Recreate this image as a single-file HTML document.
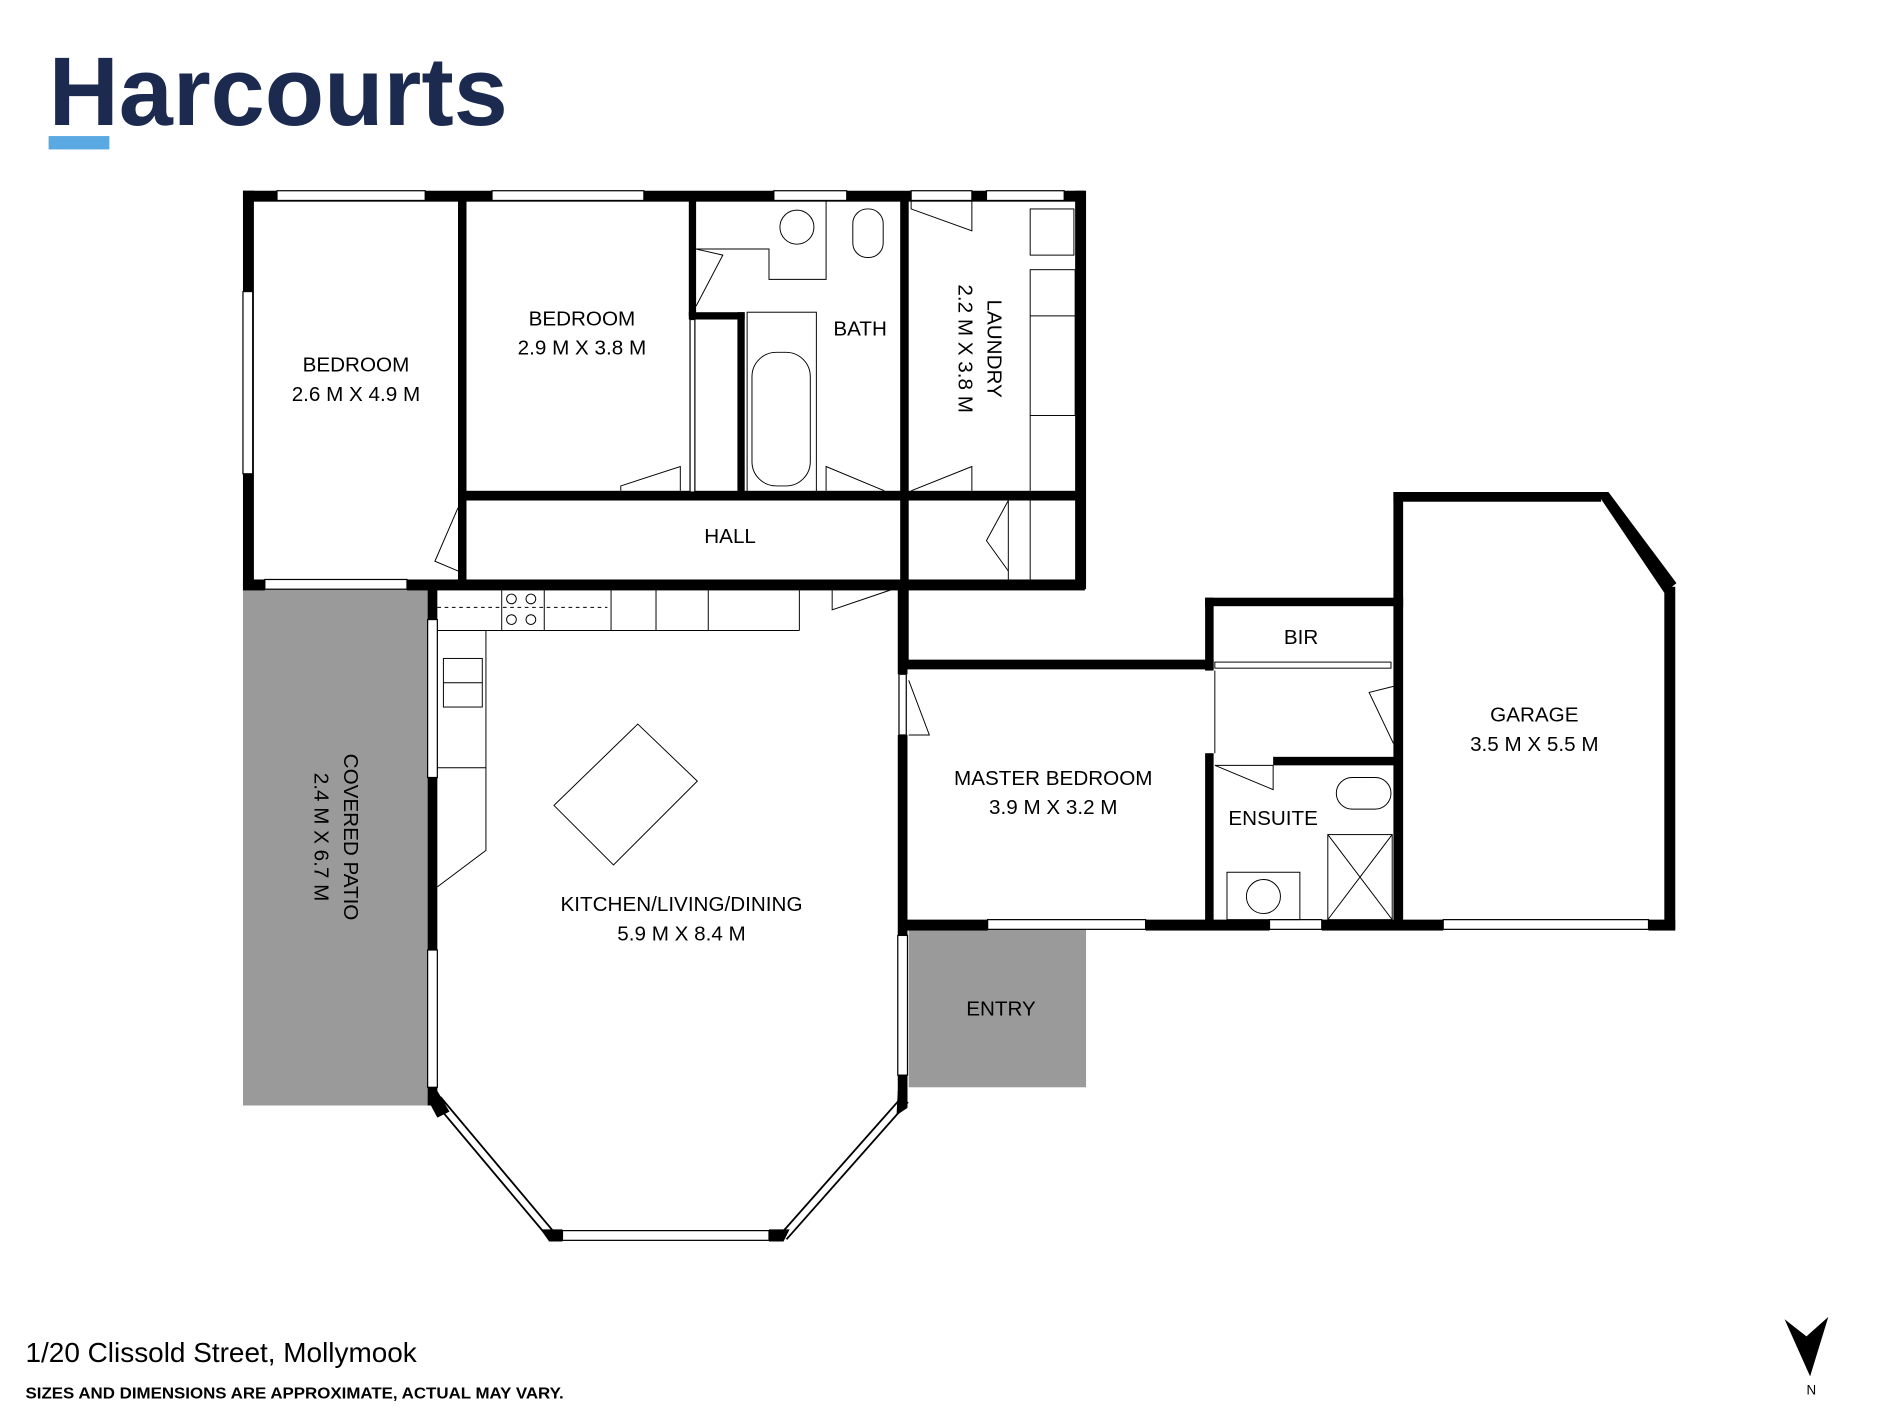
<!DOCTYPE html>
<html><head><meta charset="utf-8"><style>
html,body{margin:0;padding:0;background:#fff;}
svg{display:block}
text{font-family:"Liberation Sans","DejaVu Sans",sans-serif;}
</style></head><body>
<svg width="1900" height="1425" viewBox="0 0 1564 1173" preserveAspectRatio="none" xmlns="http://www.w3.org/2000/svg">
<rect width="1564" height="1173" fill="#fff"/>
<!-- logo -->
<text x="40" y="103" font-size="80" font-weight="bold" fill="#1b2a4e" textLength="378" lengthAdjust="spacingAndGlyphs">Harcourts</text>
<rect x="40" y="112" width="50" height="11" fill="#5aa9e3"/>

<!-- gray areas -->
<rect x="200" y="485" width="152" height="425" fill="#9a9a9a"/>
<rect x="748" y="765" width="146" height="130" fill="#9a9a9a"/>

<g fill="#000">
<rect x="200" y="157" width="693" height="9"/>
<rect x="200" y="157" width="9" height="328"/>
<rect x="885" y="157" width="9" height="328"/>
<rect x="200" y="477" width="18" height="9"/>
<rect x="335" y="477" width="558" height="9"/>
<rect x="377" y="165" width="7" height="312"/>
<rect x="377" y="404" width="516" height="8"/>
<rect x="567" y="165" width="6" height="95"/>
<rect x="567" y="257" width="46" height="6"/>
<rect x="607" y="257" width="6" height="150"/>
<rect x="741" y="165" width="7" height="383"/>
<rect x="352" y="485" width="8" height="25"/>
<rect x="352" y="640" width="8" height="142"/>
<rect x="352" y="895" width="8" height="15"/>
<rect x="739" y="485" width="8" height="70"/>
<rect x="739" y="605" width="8" height="165"/>
<rect x="739" y="885" width="8" height="25"/>
<rect x="741" y="543" width="258" height="8"/>
<rect x="992" y="492" width="7" height="60"/>
<rect x="992" y="620" width="7" height="145"/>
<rect x="992" y="492" width="163" height="7"/>
<rect x="1048" y="623" width="105" height="7"/>
<rect x="1147" y="405" width="8" height="360"/>
<rect x="1147" y="405" width="171" height="8"/>
<polygon points="1314,405 1324,405 1380,480 1370,488"/>
<rect x="1370" y="483" width="9" height="282"/>
<rect x="741" y="757" width="72" height="9"/>
<rect x="943" y="757" width="102" height="9"/>
<rect x="1088" y="757" width="100" height="9"/>
<rect x="1357" y="757" width="22" height="9"/>
</g>
<g fill="#fff" stroke="#000" stroke-width="1">
<rect x="228" y="157" width="122" height="8"/>
<rect x="405" y="157" width="125" height="8"/>
<rect x="637" y="157" width="60" height="8"/>
<rect x="750" y="157" width="50" height="8"/>
<rect x="812" y="157" width="64" height="8"/>
<rect x="200" y="240" width="8" height="150"/>
<rect x="218" y="477" width="117" height="8"/>
<rect x="352" y="510" width="8" height="130"/>
<rect x="352" y="782" width="8" height="113"/>
<rect x="739" y="770" width="8" height="115"/>
<rect x="740" y="555" width="6" height="50"/>
<rect x="813" y="757" width="130" height="8"/>
<rect x="1045" y="757" width="43" height="8"/>
<rect x="1188" y="757" width="169" height="8"/>
<rect x="463" y="1013" width="170" height="8"/>
<rect x="568" y="263" width="4" height="142"/>
</g>
<g stroke="#000" fill="none">
<line x1="360" y1="905" x2="455" y2="1018" stroke-width="8"/>
<line x1="360" y1="905" x2="455" y2="1018" stroke="#fff" stroke-width="5"/>
<line x1="745" y1="905" x2="645" y2="1018" stroke-width="8"/>
<line x1="745" y1="905" x2="645" y2="1018" stroke="#fff" stroke-width="5"/>
</g>
<g fill="#000">
<polygon points="352,905 360,898 370,915 360,920"/>
<polygon points="445,1012 463,1012 463,1022 452,1022"/>
<polygon points="633,1012 650,1012 645,1022 633,1022"/>
<polygon points="739,898 747,898 747,912 738,918"/>
</g>
<g fill="none" stroke="#000" stroke-width="0.8">
<rect x="413" y="485" width="35" height="34"/>
<circle cx="421" cy="493" r="4"/><circle cx="437" cy="493" r="4"/><circle cx="421" cy="510" r="4"/><circle cx="437" cy="510" r="4"/>
<polyline points="360,519 400,519 400,632 360,632"/>
<line x1="400" y1="519" x2="658" y2="519"/>
<line x1="658" y1="485" x2="658" y2="519"/>
<line x1="503" y1="485" x2="503" y2="519"/><line x1="540" y1="485" x2="540" y2="519"/><line x1="583" y1="485" x2="583" y2="519"/>
<line x1="360" y1="500" x2="500" y2="500" stroke-dasharray="3,3"/>
<rect x="365" y="542" width="32" height="40"/>
<line x1="365" y1="562" x2="397" y2="562"/>
<polyline points="360,730 400,700 400,632"/>
<polygon points="525,596 574,643 505,712 456,663"/>
<rect x="615" y="257" width="57" height="148"/>
<rect x="619" y="290" width="48" height="110" rx="20"/>
<polyline points="573,205 633,205 633,230 680,230 680,165"/>
<circle cx="656" cy="187" r="14"/>
<rect x="702" y="172" width="25" height="40" rx="12"/>
<rect x="848" y="172" width="36" height="38"/>
<rect x="848" y="222" width="37" height="120"/>
<line x1="848" y1="260" x2="885" y2="260"/>
<line x1="848" y1="342" x2="848" y2="404"/>
<line x1="830" y1="412" x2="830" y2="477"/><line x1="848" y1="412" x2="848" y2="477"/>
<rect x="1000" y="545" width="145" height="5"/>
<line x1="1000" y1="552" x2="1000" y2="620"/>
<rect x="1093" y="687" width="53" height="70"/>
<line x1="1093" y1="687" x2="1146" y2="757"/><line x1="1146" y1="687" x2="1093" y2="757"/>
<rect x="1010" y="718" width="60" height="39"/>
<circle cx="1040" cy="738" r="14"/>
<rect x="1100" y="640" width="45" height="26" rx="13"/>
<path d="M511,404 L511,400 L560,384 L560,404"/>
<path d="M680,404 L680,384 L728,404"/>
<path d="M750,404 L800,384 L800,404"/>
<path d="M377,418 L358,462 L377,470"/>
<path d="M830,412 L812,445 L830,470"/>
<path d="M573,205 L595,210 L573,252"/>
<path d="M750,165 L750,172 L800,190 L800,165"/>
<path d="M685,485 L685,502 L735,485"/>
<path d="M748,560 L765,605 L748,605"/>
<path d="M1147,565 L1127,570 L1147,612"/>
<path d="M1000,630 L1048,630 L1048,650 Z"/>
</g>
<g font-size="17" fill="#000" text-anchor="middle">
<text x="293" y="306">BEDROOM</text><text x="293" y="330">2.6 M X 4.9 M</text>
<text x="479" y="268">BEDROOM</text><text x="479" y="292">2.9 M X 3.8 M</text>
<text x="708" y="276">BATH</text>
<text x="601" y="447">HALL</text>
<text transform="translate(813,287) rotate(90)"><tspan x="0" y="0">LAUNDRY</tspan><tspan x="0" y="24">2.2 M X 3.8 M</tspan></text>
<text transform="translate(283,689) rotate(90)"><tspan x="0" y="0">COVERED PATIO</tspan><tspan x="0" y="24">2.4 M X 6.7 M</tspan></text>
<text x="1071" y="530">BIR</text>
<text x="1263" y="594">GARAGE</text><text x="1263" y="618">3.5 M X 5.5 M</text>
<text x="867" y="646">MASTER BEDROOM</text><text x="867" y="670">3.9 M X 3.2 M</text>
<text x="1048" y="679">ENSUITE</text>
<text x="561" y="750">KITCHEN/LIVING/DINING</text><text x="561" y="774">5.9 M X 8.4 M</text>
<text x="824" y="836">ENTRY</text>
</g>
<text x="21" y="1121" font-size="23" fill="#000">1/20 Clissold Street, Mollymook</text>
<text x="21" y="1151" font-size="13" font-weight="bold" fill="#000" textLength="443" lengthAdjust="spacingAndGlyphs">SIZES AND DIMENSIONS ARE APPROXIMATE, ACTUAL MAY VARY.</text>
<polygon points="1469,1086 1487,1100 1505,1084 1490,1133" fill="#000"/>
<text x="1491" y="1148" font-size="11" text-anchor="middle">N</text>
</svg>
</body></html>
